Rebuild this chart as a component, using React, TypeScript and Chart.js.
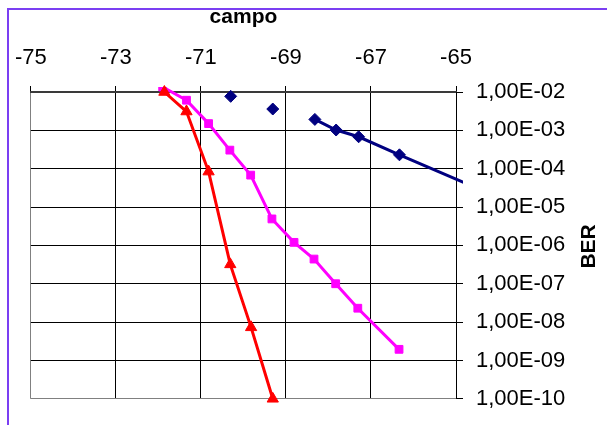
import { useEffect, useRef } from "react";
import { Chart, registerables } from "chart.js";

Chart.register(...registerables);

// Axis ticks
const xTickValues = [-75, -73, -71, -69, -67, -65];
const yTickValues = [1e-2, 1e-3, 1e-4, 1e-5, 1e-6, 1e-7, 1e-8, 1e-9, 1e-10];

// Red series (triangles)
const redX = [-71.86, -71.34, -70.82, -70.31, -69.82, -69.31];
const redY = [1.0e-2, 3.1e-3, 8.4e-5, 3.2e-7, 7.3e-9, 1.0e-10];

// Magenta series (squares)
const pinkX = [-71.9, -71.34, -70.82, -70.32, -69.83, -69.33, -68.81, -68.34, -67.83, -67.31, -66.34];
const pinkY = [1.35e-2, 6.1e-3, 1.5e-3, 3.05e-4, 6.8e-5, 4.9e-6, 1.2e-6, 4.4e-7, 1.0e-7, 2.3e-8, 1.95e-9];

// Navy series (diamonds); null entries leave gaps in the line
const navyX = [-70.3, -69.8, -69.31, -68.8, -68.32, -67.82, -67.29, -66.33, -64.35];
const navyY = [7.7e-3, null, 3.6e-3, null, 1.93e-3, 1.02e-3, 6.8e-4, 2.3e-4, 2.64e-5];

const xTitle = "campo";
const yTitle = "BER";

const FONT = "'Liberation Sans', Arial, Helvetica, sans-serif";

const toPoints = (xs: number[], ys: (number | null)[]) =>
  xs.map((x, i) => ({ x, y: ys[i] }));

const formatBer = (v: number) => {
  const e = Math.round(Math.log10(v));
  const sign = e < 0 ? "-" : "+";
  return `1,00E${sign}${String(Math.abs(e)).padStart(2, "0")}`;
};

// Rotated axis title on the right-hand side, reading bottom to top
const verticalTitle = {
  id: "verticalTitle",
  afterDraw(chart: Chart) {
    const { ctx, chartArea } = chart;
    ctx.save();
    ctx.translate(589, (chartArea.top + chartArea.bottom) / 2 + 1);
    ctx.rotate(-Math.PI / 2);
    ctx.font = `bold 21px ${FONT}`;
    ctx.fillStyle = "#000";
    ctx.textAlign = "center";
    ctx.textBaseline = "middle";
    ctx.fillText(yTitle, 0, 0);
    ctx.restore();
  },
};

export default function App() {
  const canvasRef = useRef<HTMLCanvasElement | null>(null);

  useEffect(() => {
    const canvas = canvasRef.current;
    if (!canvas) return;
    const clip = { left: 10, top: 10, right: 7, bottom: 10 };
    const chart = new Chart(canvas, {
      type: "scatter",
      data: {
        datasets: [
          {
            label: "red",
            data: toPoints(redX, redY),
            showLine: true,
            borderColor: "#ff0000",
            backgroundColor: "#ff0000",
            borderWidth: 3,
            pointStyle: "triangle",
            pointRadius: 6.5,
            pointBorderWidth: 1,
            clip,
          },
          {
            label: "magenta",
            data: toPoints(pinkX, pinkY),
            showLine: true,
            borderColor: "#ff00ff",
            backgroundColor: "#ff00ff",
            borderWidth: 3,
            pointStyle: "rect",
            pointRadius: 5.5,
            pointBorderWidth: 1,
            clip: { left: 10, top: 5, right: 7, bottom: 10 },
          },
          {
            label: "navy",
            data: toPoints(navyX, navyY),
            showLine: true,
            spanGaps: false,
            borderColor: "#000080",
            backgroundColor: "#000080",
            borderWidth: 3,
            pointStyle: "rectRot",
            pointRadius: 6,
            pointBorderWidth: 1,
            clip,
          },
        ],
      },
      options: {
        responsive: false,
        animation: false,
        devicePixelRatio: 1,
        layout: { padding: { left: 28, top: 0, right: 0, bottom: 23 } },
        plugins: {
          legend: { display: false },
          tooltip: { enabled: false },
        },
        scales: {
          x: {
            type: "linear",
            position: "top",
            min: -75,
            max: -65,
            afterBuildTicks: (scale: any) => {
              scale.ticks = xTickValues.map((value) => ({ value }));
            },
            afterFit: (scale: any) => {
              scale.height = 92;
            },
            ticks: {
              autoSkip: false,
              maxRotation: 0,
              padding: 15,
              color: "#000",
              font: { family: FONT, size: 22 },
              callback: (v: any) => String(v),
            },
            grid: {
              color: (c: any) => (c.tick && c.tick.value === -75 ? "#808080" : "#000"),
              lineWidth: 1,
              tickLength: 6,
              tickColor: "#000",
            },
            border: { display: true, color: "#3a3a3a", width: 2 },
            title: {
              display: true,
              text: xTitle,
              color: "#000",
              font: { family: FONT, size: 21, weight: "bold" },
              padding: { top: 5, bottom: 0 },
            },
          },
          y: {
            type: "logarithmic",
            position: "right",
            min: 1e-10,
            max: 1e-2,
            afterBuildTicks: (scale: any) => {
              scale.ticks = yTickValues.map((value) => ({ value }));
            },
            afterFit: (scale: any) => {
              scale.width = 151;
            },
            ticks: {
              autoSkip: false,
              padding: 13,
              color: "#000",
              font: { family: FONT, size: 22 },
              callback: (v: any) => formatBer(Number(v)),
            },
            grid: {
              color: (c: any) =>
                c.tick && Math.abs(Math.log10(c.tick.value) + 10) < 0.01 ? "#808080" : "#000",
              lineWidth: 1,
              tickLength: 7,
              tickColor: "#000",
            },
            border: { display: true, color: "#000", width: 1 },
          },
        },
      },
      plugins: [verticalTitle],
    });
    return () => chart.destroy();
  }, []);

  return (
    <div
      style={{
        position: "fixed",
        left: 0,
        top: 0,
        width: 607,
        height: 425,
        overflow: "hidden",
        background: "#fff",
      }}
    >
      <div
        style={{
          position: "absolute",
          left: 7,
          top: 8,
          width: 600,
          height: 417,
          borderLeft: "2px solid #7b3ff2",
          borderTop: "2px solid #7b3ff2",
        }}
      />
      <canvas
        ref={canvasRef}
        width={607}
        height={425}
        style={{ position: "absolute", left: 0, top: 0, display: "block" }}
      />
    </div>
  );
}
